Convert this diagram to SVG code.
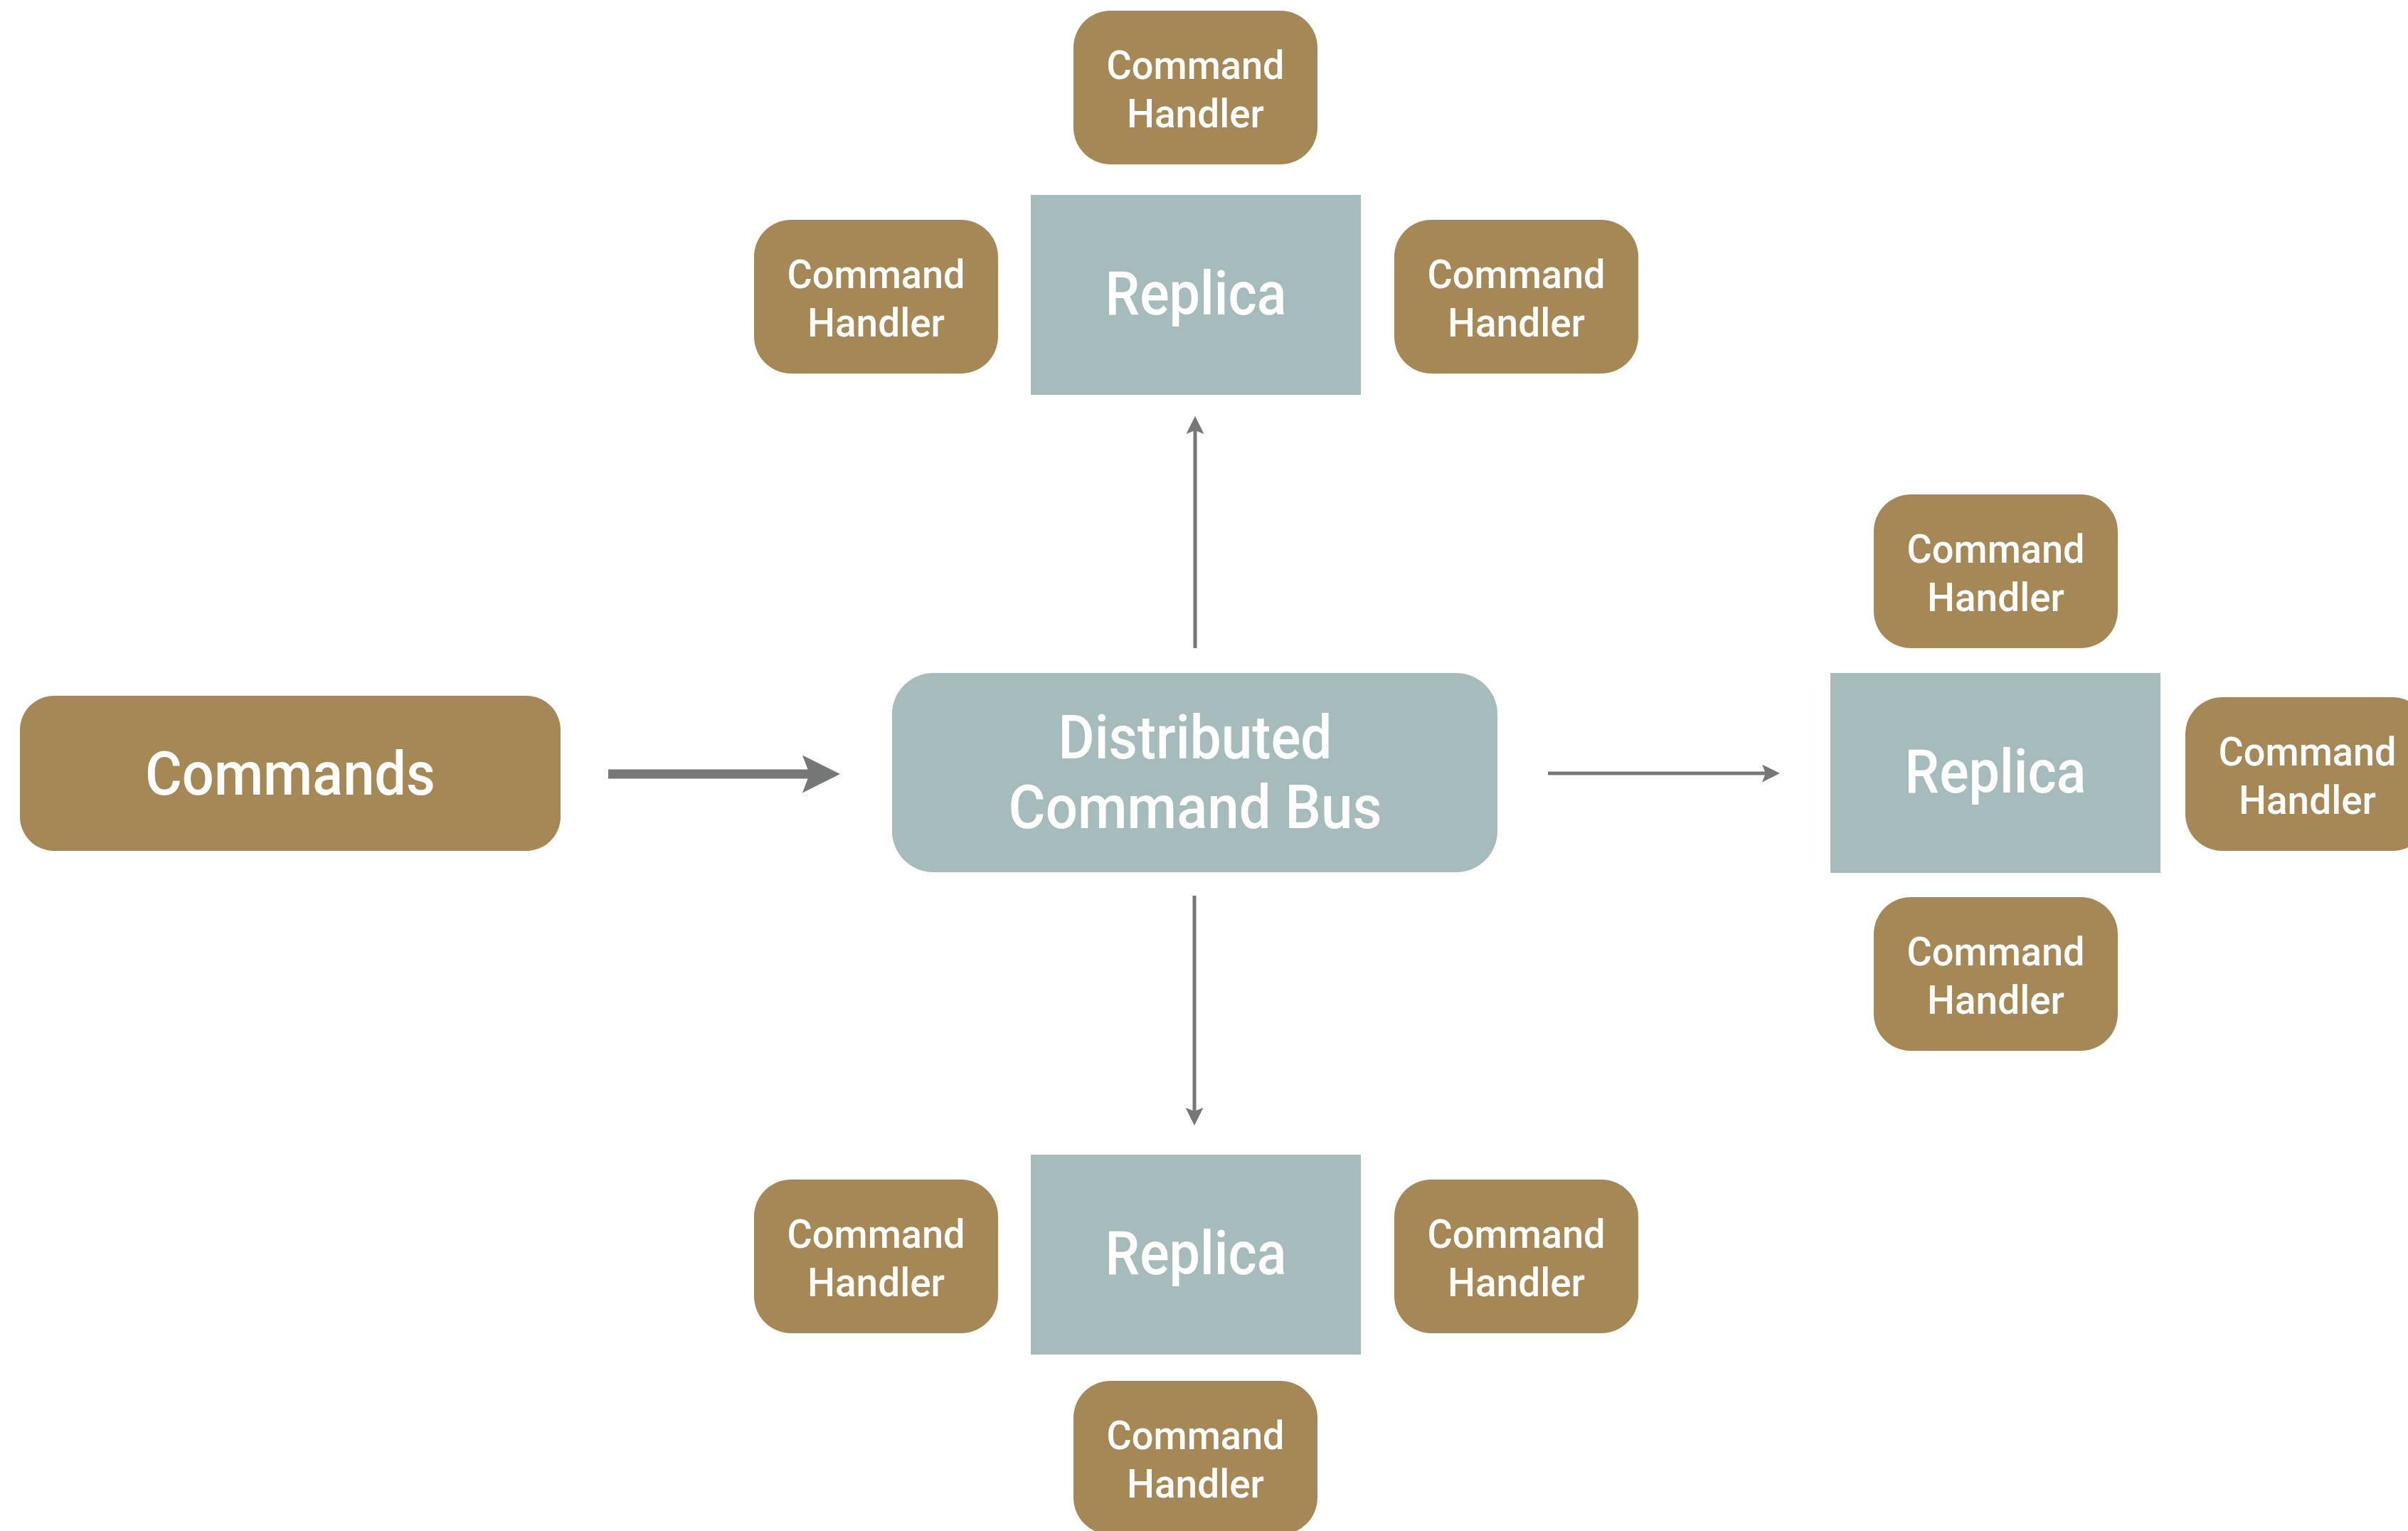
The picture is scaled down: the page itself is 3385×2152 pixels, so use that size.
<svg xmlns="http://www.w3.org/2000/svg" width="3385" height="2152" viewBox="0 0 3385 2152">
  <style>
    .handler rect { fill: #A68857; }
    .replica rect, .bus rect { fill: #A6BBBC; }
    .source rect { fill: #A68857; }
    text { font-family: Roboto, "Liberation Sans", sans-serif; font-weight: 500; fill: #FFFFFF; text-anchor: middle; }
    .small { font-size: 55px; }
    .big { font-size: 86px; }
    .link { stroke: #767777; fill: none; }
    .thin { stroke-width: 5; }
    .thick { stroke-width: 13; }
  </style>
  <defs>
    <marker id="headThin" markerUnits="userSpaceOnUse" markerWidth="26" markerHeight="26" refX="5" refY="12.5" orient="auto" viewBox="0 0 26 26">
      <path d="M0,0 L25,12.5 L0,25 L5,12.5 Z" fill="#767777"/>
    </marker>
    <marker id="headThick" markerUnits="userSpaceOnUse" markerWidth="54" markerHeight="54" refX="10" refY="26.5" orient="auto" viewBox="0 0 54 54">
      <path d="M0,0 L53,26.5 L0,53 L10,26.5 Z" fill="#767777"/>
    </marker>
  </defs>

  <rect width="3385" height="2152" fill="#FFFFFF"/>

  <!-- connectors -->
  <g id="connectors">
    <line class="link thick" x1="855" y1="1088" x2="1138" y2="1088" marker-end="url(#headThick)"/>
    <line class="link thin" x1="2176" y1="1087" x2="2482" y2="1087" marker-end="url(#headThin)"/>
    <line class="link thin" x1="1680" y1="911" x2="1680" y2="605" marker-end="url(#headThin)"/>
    <line class="link thin" x1="1679" y1="1259" x2="1679" y2="1562" marker-end="url(#headThin)"/>
  </g>

  <!-- source of commands -->
  <g id="commands" class="source">
    <rect x="28" y="978" width="760" height="218" rx="48"/>
    <text class="big" x="408" y="1117" textLength="408" lengthAdjust="spacingAndGlyphs">Commands</text>
  </g>

  <!-- central bus -->
  <g id="bus" class="bus">
    <rect x="1254" y="946" width="851" height="280" rx="58"/>
    <text class="big" x="1680" y="1066" textLength="385" lengthAdjust="spacingAndGlyphs">Distributed</text>
    <text class="big" x="1680" y="1164" textLength="525" lengthAdjust="spacingAndGlyphs">Command Bus</text>
  </g>

  <!-- replicas -->
  <g id="replica-top" class="replica">
    <rect x="1449" y="274" width="464" height="281"/>
    <text class="big" x="1681" y="442" textLength="255" lengthAdjust="spacingAndGlyphs">Replica</text>
  </g>
  <g id="replica-bottom" class="replica">
    <rect x="1449" y="1623" width="464" height="281"/>
    <text class="big" x="1681" y="1791" textLength="255" lengthAdjust="spacingAndGlyphs">Replica</text>
  </g>
  <g id="replica-right" class="replica">
    <rect x="2573" y="946" width="464" height="281"/>
    <text class="big" x="2805" y="1114" textLength="255" lengthAdjust="spacingAndGlyphs">Replica</text>
  </g>

  <!-- command handlers around the top replica -->
  <g id="handler-top-1" class="handler">
    <rect x="1509" y="15" width="343" height="216" rx="52"/>
    <text class="small" x="1680.5" y="111" textLength="250" lengthAdjust="spacingAndGlyphs">Command</text>
    <text class="small" x="1680.5" y="179" textLength="193" lengthAdjust="spacingAndGlyphs">Handler</text>
  </g>
  <g id="handler-top-2" class="handler">
    <rect x="1060" y="309" width="343" height="216" rx="52"/>
    <text class="small" x="1231.5" y="405" textLength="250" lengthAdjust="spacingAndGlyphs">Command</text>
    <text class="small" x="1231.5" y="473" textLength="193" lengthAdjust="spacingAndGlyphs">Handler</text>
  </g>
  <g id="handler-top-3" class="handler">
    <rect x="1960" y="309" width="343" height="216" rx="52"/>
    <text class="small" x="2131.5" y="405" textLength="250" lengthAdjust="spacingAndGlyphs">Command</text>
    <text class="small" x="2131.5" y="473" textLength="193" lengthAdjust="spacingAndGlyphs">Handler</text>
  </g>

  <!-- command handlers around the bottom replica -->
  <g id="handler-bottom-1" class="handler">
    <rect x="1060" y="1658" width="343" height="216" rx="52"/>
    <text class="small" x="1231.5" y="1754" textLength="250" lengthAdjust="spacingAndGlyphs">Command</text>
    <text class="small" x="1231.5" y="1822" textLength="193" lengthAdjust="spacingAndGlyphs">Handler</text>
  </g>
  <g id="handler-bottom-2" class="handler">
    <rect x="1960" y="1658" width="343" height="216" rx="52"/>
    <text class="small" x="2131.5" y="1754" textLength="250" lengthAdjust="spacingAndGlyphs">Command</text>
    <text class="small" x="2131.5" y="1822" textLength="193" lengthAdjust="spacingAndGlyphs">Handler</text>
  </g>
  <g id="handler-bottom-3" class="handler">
    <rect x="1509" y="1941" width="343" height="216" rx="52"/>
    <text class="small" x="1680.5" y="2037" textLength="250" lengthAdjust="spacingAndGlyphs">Command</text>
    <text class="small" x="1680.5" y="2105" textLength="193" lengthAdjust="spacingAndGlyphs">Handler</text>
  </g>

  <!-- command handlers around the right replica -->
  <g id="handler-right-1" class="handler">
    <rect x="2634" y="695" width="343" height="216" rx="52"/>
    <text class="small" x="2805.5" y="791" textLength="250" lengthAdjust="spacingAndGlyphs">Command</text>
    <text class="small" x="2805.5" y="859" textLength="193" lengthAdjust="spacingAndGlyphs">Handler</text>
  </g>
  <g id="handler-right-2" class="handler">
    <rect x="2634" y="1261" width="343" height="216" rx="52"/>
    <text class="small" x="2805.5" y="1357" textLength="250" lengthAdjust="spacingAndGlyphs">Command</text>
    <text class="small" x="2805.5" y="1425" textLength="193" lengthAdjust="spacingAndGlyphs">Handler</text>
  </g>
  <g id="handler-right-3" class="handler">
    <rect x="3072" y="980" width="343" height="216" rx="52"/>
    <text class="small" x="3243.5" y="1076" textLength="250" lengthAdjust="spacingAndGlyphs">Command</text>
    <text class="small" x="3243.5" y="1144" textLength="193" lengthAdjust="spacingAndGlyphs">Handler</text>
  </g>
</svg>
